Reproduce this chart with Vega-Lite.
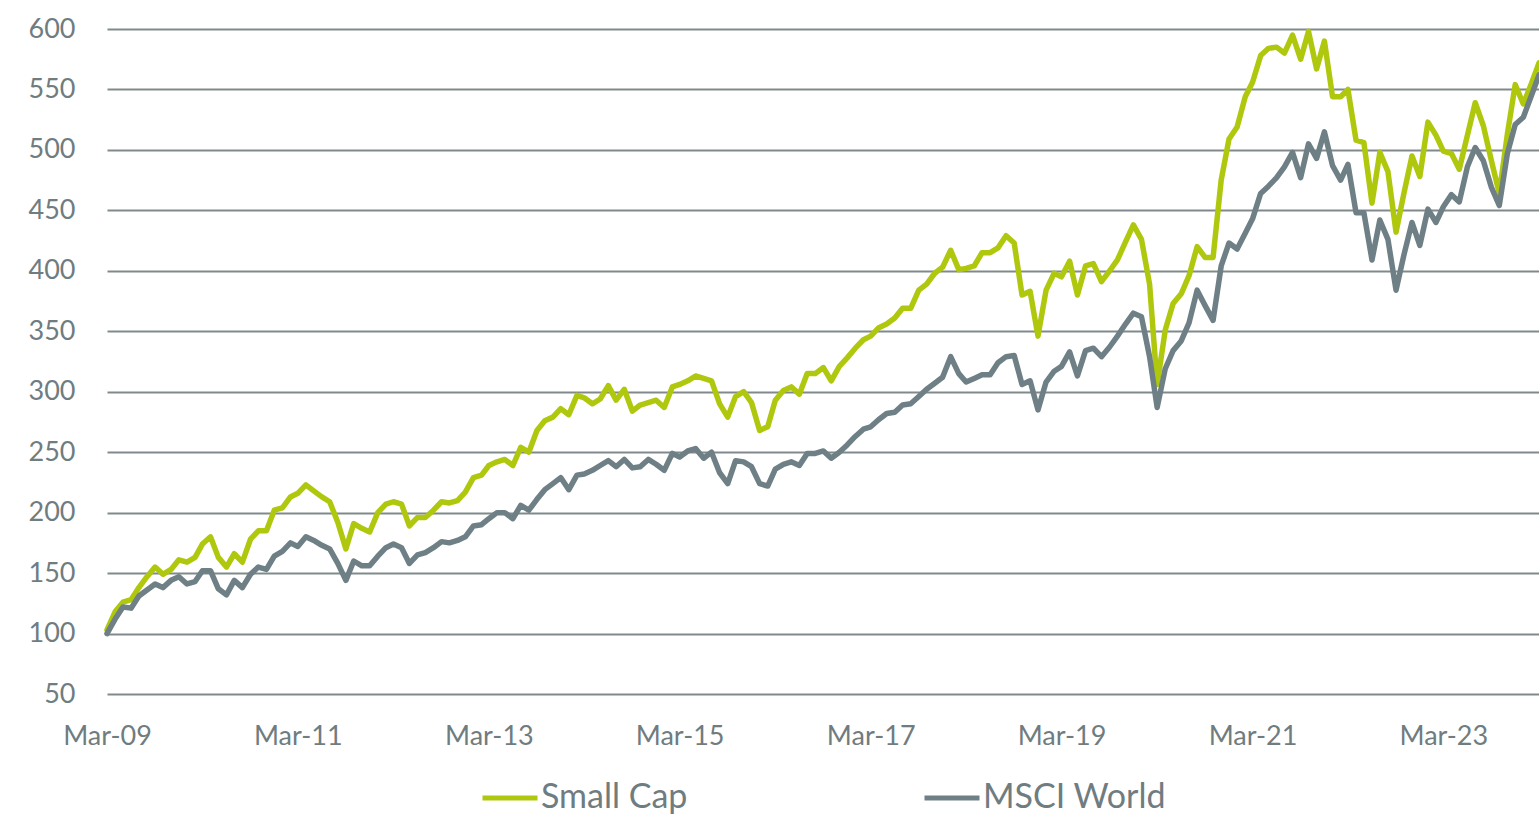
{
  "$schema": "https://vega.github.io/schema/vega-lite/v6.json",
  "width": 1432,
  "height": 665,
  "autosize": {"type": "none"},
  "padding": {"left": 107, "top": 29, "right": 0, "bottom": 124},
  "background": "white",
  "config": {"view": {"stroke": null}, "font": "Lato"},
  "data": {"values": [
    {"date":"2009/03/01","Small Cap":103,"MSCI World":100},
    {"date":"2009/04/01","Small Cap":118,"MSCI World":112},
    {"date":"2009/05/01","Small Cap":126,"MSCI World":122},
    {"date":"2009/06/01","Small Cap":128,"MSCI World":121},
    {"date":"2009/07/01","Small Cap":138,"MSCI World":131},
    {"date":"2009/08/01","Small Cap":147,"MSCI World":136},
    {"date":"2009/09/01","Small Cap":155,"MSCI World":141},
    {"date":"2009/10/01","Small Cap":149,"MSCI World":138},
    {"date":"2009/11/01","Small Cap":153,"MSCI World":144},
    {"date":"2009/12/01","Small Cap":161,"MSCI World":147},
    {"date":"2010/01/01","Small Cap":159,"MSCI World":141},
    {"date":"2010/02/01","Small Cap":163,"MSCI World":143},
    {"date":"2010/03/01","Small Cap":174,"MSCI World":152},
    {"date":"2010/04/01","Small Cap":180,"MSCI World":152},
    {"date":"2010/05/01","Small Cap":163,"MSCI World":137},
    {"date":"2010/06/01","Small Cap":155,"MSCI World":132},
    {"date":"2010/07/01","Small Cap":166,"MSCI World":144},
    {"date":"2010/08/01","Small Cap":159,"MSCI World":138},
    {"date":"2010/09/01","Small Cap":178,"MSCI World":149},
    {"date":"2010/10/01","Small Cap":185,"MSCI World":155},
    {"date":"2010/11/01","Small Cap":185,"MSCI World":153},
    {"date":"2010/12/01","Small Cap":202,"MSCI World":164},
    {"date":"2011/01/01","Small Cap":204,"MSCI World":168},
    {"date":"2011/02/01","Small Cap":213,"MSCI World":175},
    {"date":"2011/03/01","Small Cap":216,"MSCI World":172},
    {"date":"2011/04/01","Small Cap":223,"MSCI World":180},
    {"date":"2011/05/01","Small Cap":218,"MSCI World":177},
    {"date":"2011/06/01","Small Cap":213,"MSCI World":173},
    {"date":"2011/07/01","Small Cap":209,"MSCI World":170},
    {"date":"2011/08/01","Small Cap":192,"MSCI World":158},
    {"date":"2011/09/01","Small Cap":170,"MSCI World":144},
    {"date":"2011/10/01","Small Cap":191,"MSCI World":160},
    {"date":"2011/11/01","Small Cap":187,"MSCI World":156},
    {"date":"2011/12/01","Small Cap":184,"MSCI World":156},
    {"date":"2012/01/01","Small Cap":200,"MSCI World":164},
    {"date":"2012/02/01","Small Cap":207,"MSCI World":171},
    {"date":"2012/03/01","Small Cap":209,"MSCI World":174},
    {"date":"2012/04/01","Small Cap":207,"MSCI World":171},
    {"date":"2012/05/01","Small Cap":189,"MSCI World":158},
    {"date":"2012/06/01","Small Cap":196,"MSCI World":165},
    {"date":"2012/07/01","Small Cap":196,"MSCI World":167},
    {"date":"2012/08/01","Small Cap":202,"MSCI World":171},
    {"date":"2012/09/01","Small Cap":209,"MSCI World":176},
    {"date":"2012/10/01","Small Cap":208,"MSCI World":175},
    {"date":"2012/11/01","Small Cap":210,"MSCI World":177},
    {"date":"2012/12/01","Small Cap":217,"MSCI World":180},
    {"date":"2013/01/01","Small Cap":229,"MSCI World":189},
    {"date":"2013/02/01","Small Cap":231,"MSCI World":190},
    {"date":"2013/03/01","Small Cap":239,"MSCI World":195},
    {"date":"2013/04/01","Small Cap":242,"MSCI World":200},
    {"date":"2013/05/01","Small Cap":244,"MSCI World":200},
    {"date":"2013/06/01","Small Cap":239,"MSCI World":195},
    {"date":"2013/07/01","Small Cap":254,"MSCI World":206},
    {"date":"2013/08/01","Small Cap":250,"MSCI World":202},
    {"date":"2013/09/01","Small Cap":268,"MSCI World":211},
    {"date":"2013/10/01","Small Cap":276,"MSCI World":219},
    {"date":"2013/11/01","Small Cap":279,"MSCI World":224},
    {"date":"2013/12/01","Small Cap":286,"MSCI World":229},
    {"date":"2014/01/01","Small Cap":281,"MSCI World":219},
    {"date":"2014/02/01","Small Cap":297,"MSCI World":231},
    {"date":"2014/03/01","Small Cap":295,"MSCI World":232},
    {"date":"2014/04/01","Small Cap":290,"MSCI World":235},
    {"date":"2014/05/01","Small Cap":294,"MSCI World":239},
    {"date":"2014/06/01","Small Cap":305,"MSCI World":243},
    {"date":"2014/07/01","Small Cap":293,"MSCI World":238},
    {"date":"2014/08/01","Small Cap":302,"MSCI World":244},
    {"date":"2014/09/01","Small Cap":284,"MSCI World":237},
    {"date":"2014/10/01","Small Cap":289,"MSCI World":238},
    {"date":"2014/11/01","Small Cap":291,"MSCI World":244},
    {"date":"2014/12/01","Small Cap":293,"MSCI World":240},
    {"date":"2015/01/01","Small Cap":287,"MSCI World":235},
    {"date":"2015/02/01","Small Cap":304,"MSCI World":249},
    {"date":"2015/03/01","Small Cap":306,"MSCI World":246},
    {"date":"2015/04/01","Small Cap":309,"MSCI World":251},
    {"date":"2015/05/01","Small Cap":313,"MSCI World":253},
    {"date":"2015/06/01","Small Cap":311,"MSCI World":245},
    {"date":"2015/07/01","Small Cap":309,"MSCI World":250},
    {"date":"2015/08/01","Small Cap":290,"MSCI World":233},
    {"date":"2015/09/01","Small Cap":279,"MSCI World":224},
    {"date":"2015/10/01","Small Cap":296,"MSCI World":243},
    {"date":"2015/11/01","Small Cap":300,"MSCI World":242},
    {"date":"2015/12/01","Small Cap":291,"MSCI World":238},
    {"date":"2016/01/01","Small Cap":268,"MSCI World":224},
    {"date":"2016/02/01","Small Cap":271,"MSCI World":222},
    {"date":"2016/03/01","Small Cap":293,"MSCI World":236},
    {"date":"2016/04/01","Small Cap":301,"MSCI World":240},
    {"date":"2016/05/01","Small Cap":304,"MSCI World":242},
    {"date":"2016/06/01","Small Cap":298,"MSCI World":239},
    {"date":"2016/07/01","Small Cap":315,"MSCI World":249},
    {"date":"2016/08/01","Small Cap":315,"MSCI World":249},
    {"date":"2016/09/01","Small Cap":320,"MSCI World":251},
    {"date":"2016/10/01","Small Cap":309,"MSCI World":245},
    {"date":"2016/11/01","Small Cap":321,"MSCI World":250},
    {"date":"2016/12/01","Small Cap":328,"MSCI World":256},
    {"date":"2017/01/01","Small Cap":336,"MSCI World":263},
    {"date":"2017/02/01","Small Cap":343,"MSCI World":269},
    {"date":"2017/03/01","Small Cap":346,"MSCI World":271},
    {"date":"2017/04/01","Small Cap":353,"MSCI World":277},
    {"date":"2017/05/01","Small Cap":356,"MSCI World":282},
    {"date":"2017/06/01","Small Cap":361,"MSCI World":283},
    {"date":"2017/07/01","Small Cap":369,"MSCI World":289},
    {"date":"2017/08/01","Small Cap":369,"MSCI World":290},
    {"date":"2017/09/01","Small Cap":384,"MSCI World":296},
    {"date":"2017/10/01","Small Cap":389,"MSCI World":302},
    {"date":"2017/11/01","Small Cap":398,"MSCI World":307},
    {"date":"2017/12/01","Small Cap":403,"MSCI World":312},
    {"date":"2018/01/01","Small Cap":417,"MSCI World":329},
    {"date":"2018/02/01","Small Cap":401,"MSCI World":315},
    {"date":"2018/03/01","Small Cap":402,"MSCI World":308},
    {"date":"2018/04/01","Small Cap":404,"MSCI World":311},
    {"date":"2018/05/01","Small Cap":415,"MSCI World":314},
    {"date":"2018/06/01","Small Cap":415,"MSCI World":314},
    {"date":"2018/07/01","Small Cap":419,"MSCI World":324},
    {"date":"2018/08/01","Small Cap":429,"MSCI World":329},
    {"date":"2018/09/01","Small Cap":423,"MSCI World":330},
    {"date":"2018/10/01","Small Cap":380,"MSCI World":306},
    {"date":"2018/11/01","Small Cap":383,"MSCI World":309},
    {"date":"2018/12/01","Small Cap":346,"MSCI World":285},
    {"date":"2019/01/01","Small Cap":384,"MSCI World":308},
    {"date":"2019/02/01","Small Cap":398,"MSCI World":317},
    {"date":"2019/03/01","Small Cap":395,"MSCI World":321},
    {"date":"2019/04/01","Small Cap":408,"MSCI World":333},
    {"date":"2019/05/01","Small Cap":380,"MSCI World":313},
    {"date":"2019/06/01","Small Cap":404,"MSCI World":334},
    {"date":"2019/07/01","Small Cap":406,"MSCI World":336},
    {"date":"2019/08/01","Small Cap":391,"MSCI World":329},
    {"date":"2019/09/01","Small Cap":400,"MSCI World":337},
    {"date":"2019/10/01","Small Cap":409,"MSCI World":346},
    {"date":"2019/11/01","Small Cap":424,"MSCI World":356},
    {"date":"2019/12/01","Small Cap":438,"MSCI World":365},
    {"date":"2020/01/01","Small Cap":426,"MSCI World":362},
    {"date":"2020/02/01","Small Cap":389,"MSCI World":329},
    {"date":"2020/03/01","Small Cap":306,"MSCI World":287},
    {"date":"2020/04/01","Small Cap":351,"MSCI World":319},
    {"date":"2020/05/01","Small Cap":373,"MSCI World":334},
    {"date":"2020/06/01","Small Cap":381,"MSCI World":342},
    {"date":"2020/07/01","Small Cap":396,"MSCI World":357},
    {"date":"2020/08/01","Small Cap":420,"MSCI World":384},
    {"date":"2020/09/01","Small Cap":411,"MSCI World":371},
    {"date":"2020/10/01","Small Cap":411,"MSCI World":359},
    {"date":"2020/11/01","Small Cap":475,"MSCI World":404},
    {"date":"2020/12/01","Small Cap":509,"MSCI World":423},
    {"date":"2021/01/01","Small Cap":519,"MSCI World":418},
    {"date":"2021/02/01","Small Cap":544,"MSCI World":431},
    {"date":"2021/03/01","Small Cap":556,"MSCI World":443},
    {"date":"2021/04/01","Small Cap":578,"MSCI World":464},
    {"date":"2021/05/01","Small Cap":584,"MSCI World":470},
    {"date":"2021/06/01","Small Cap":585,"MSCI World":477},
    {"date":"2021/07/01","Small Cap":580,"MSCI World":486},
    {"date":"2021/08/01","Small Cap":595,"MSCI World":498},
    {"date":"2021/09/01","Small Cap":575,"MSCI World":477},
    {"date":"2021/10/01","Small Cap":598,"MSCI World":505},
    {"date":"2021/11/01","Small Cap":567,"MSCI World":493},
    {"date":"2021/12/01","Small Cap":590,"MSCI World":515},
    {"date":"2022/01/01","Small Cap":544,"MSCI World":487},
    {"date":"2022/02/01","Small Cap":544,"MSCI World":475},
    {"date":"2022/03/01","Small Cap":550,"MSCI World":488},
    {"date":"2022/04/01","Small Cap":508,"MSCI World":448},
    {"date":"2022/05/01","Small Cap":506,"MSCI World":448},
    {"date":"2022/06/01","Small Cap":456,"MSCI World":409},
    {"date":"2022/07/01","Small Cap":498,"MSCI World":442},
    {"date":"2022/08/01","Small Cap":482,"MSCI World":426},
    {"date":"2022/09/01","Small Cap":432,"MSCI World":384},
    {"date":"2022/10/01","Small Cap":464,"MSCI World":413},
    {"date":"2022/11/01","Small Cap":495,"MSCI World":440},
    {"date":"2022/12/01","Small Cap":478,"MSCI World":421},
    {"date":"2023/01/01","Small Cap":523,"MSCI World":451},
    {"date":"2023/02/01","Small Cap":512,"MSCI World":440},
    {"date":"2023/03/01","Small Cap":499,"MSCI World":453},
    {"date":"2023/04/01","Small Cap":497,"MSCI World":463},
    {"date":"2023/05/01","Small Cap":484,"MSCI World":457},
    {"date":"2023/06/01","Small Cap":512,"MSCI World":486},
    {"date":"2023/07/01","Small Cap":539,"MSCI World":502},
    {"date":"2023/08/01","Small Cap":520,"MSCI World":491},
    {"date":"2023/09/01","Small Cap":491,"MSCI World":469},
    {"date":"2023/10/01","Small Cap":464,"MSCI World":454},
    {"date":"2023/11/01","Small Cap":513,"MSCI World":497},
    {"date":"2023/12/01","Small Cap":554,"MSCI World":521},
    {"date":"2024/01/01","Small Cap":538,"MSCI World":527},
    {"date":"2024/02/01","Small Cap":555,"MSCI World":545},
    {"date":"2024/03/01","Small Cap":572,"MSCI World":562}
  ]},
  "transform": [{"fold": ["Small Cap", "MSCI World"], "as": ["series", "value"]}],
  "mark": {"type": "line", "strokeWidth": 5.5, "strokeJoin": "round", "strokeCap": "round"},
  "encoding": {
    "x": {
      "field": "date",
      "type": "temporal",
      "scale": {"domain": [{"year": 2009, "month": 3, "date": 1}, {"year": 2024, "month": 3, "date": 1}]},
      "axis": {
        "values": [
          {"year": 2009, "month": 3, "date": 1},
          {"year": 2011, "month": 3, "date": 1},
          {"year": 2013, "month": 3, "date": 1},
          {"year": 2015, "month": 3, "date": 1},
          {"year": 2017, "month": 3, "date": 1},
          {"year": 2019, "month": 3, "date": 1},
          {"year": 2021, "month": 3, "date": 1},
          {"year": 2023, "month": 3, "date": 1}
        ],
        "format": "%b-%y",
        "title": null,
        "grid": false,
        "domain": false,
        "ticks": false,
        "labelFont": "Lato",
        "labelFontSize": 27,
        "labelColor": "#6f7c80",
        "labelPadding": 29,
        "labelFlush": false,
        "labelOverlap": false
      }
    },
    "y": {
      "field": "value",
      "type": "quantitative",
      "scale": {"domain": [50, 600], "nice": false, "zero": false},
      "axis": {
        "values": [50, 100, 150, 200, 250, 300, 350, 400, 450, 500, 550, 600],
        "title": null,
        "domain": false,
        "ticks": false,
        "grid": true,
        "gridColor": "#80898c",
        "gridWidth": 2,
        "labelFont": "Lato",
        "labelFontSize": 27,
        "labelColor": "#6f7c80",
        "labelPadding": 32,
        "labelOverlap": false
      }
    },
    "color": {
      "field": "series",
      "type": "nominal",
      "scale": {"domain": ["Small Cap", "MSCI World"], "range": ["#afc80e", "#6e8085"]},
      "legend": {
        "orient": "none",
        "legendX": 373,
        "legendY": 739,
        "direction": "horizontal",
        "title": null,
        "symbolType": "stroke",
        "symbolSize": 3025,
        "symbolStrokeWidth": 5,
        "labelFont": "Lato",
        "labelFontSize": 34,
        "labelLimit": 400,
        "labelColor": "#6f7c80",
        "labelOffset": 1,
        "columnPadding": 226
      }
    }
  }
}
